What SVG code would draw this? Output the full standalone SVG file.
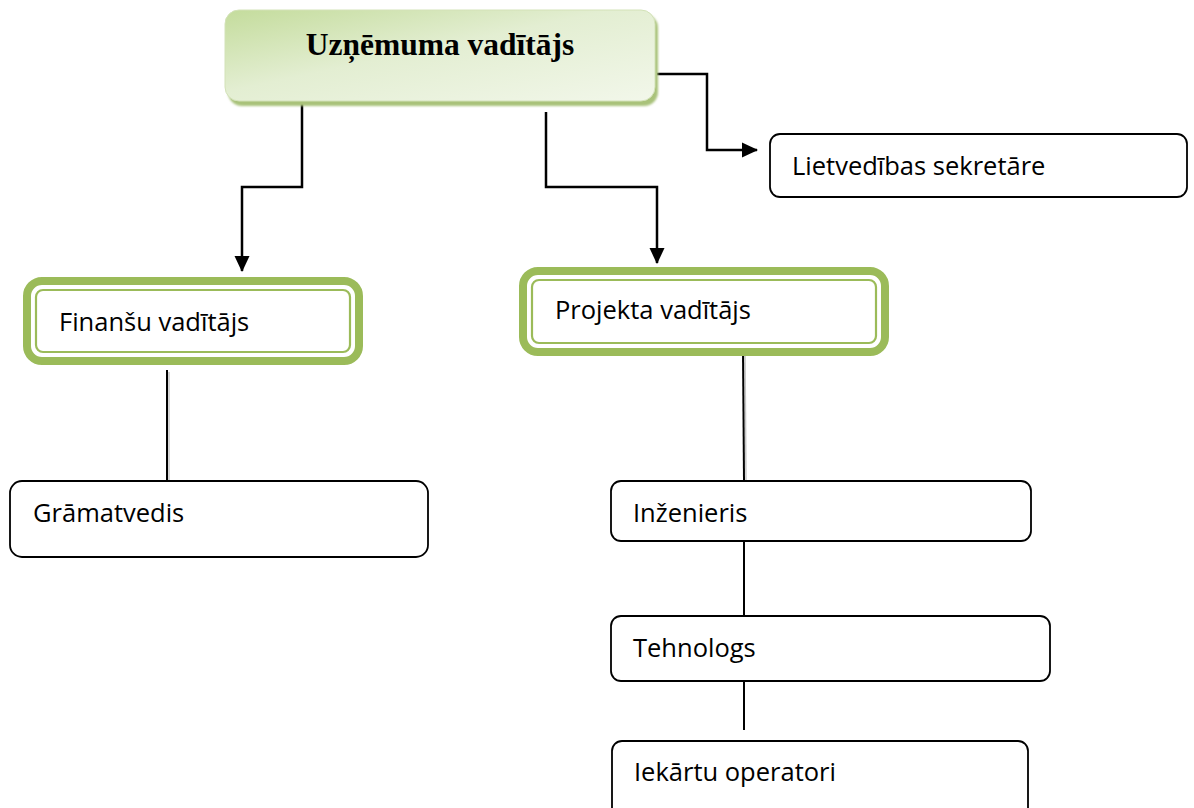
<svg xmlns="http://www.w3.org/2000/svg" width="1194" height="808" viewBox="0 0 1194 808">
<defs>
<linearGradient id="topg" x1="0" y1="0" x2="1" y2="1">
<stop offset="0" stop-color="#c4dc9c"/>
<stop offset="0.45" stop-color="#e3eed2"/>
<stop offset="1" stop-color="#f2f7ea"/>
</linearGradient>
<marker id="arr" markerWidth="16" markerHeight="16" refX="15" refY="8" orient="auto" markerUnits="userSpaceOnUse">
<path d="M0,0.5 L16,8 L0,15.5 Z" fill="#000"/>
</marker>
<filter id="sh" x="-5%" y="-5%" width="110%" height="120%">
<feGaussianBlur stdDeviation="1.2"/>
</filter>
</defs>
<style>
.box{fill:#fff;stroke:#000;stroke-width:1.8}
.gout{fill:#fff;stroke:#9bbb59;stroke-width:8}
.gin{fill:none;stroke:#9bbb59;stroke-width:2.2}
.lbl{font-family:"Open Sans","Liberation Sans",sans-serif;font-size:25.5px;fill:#000}
.title{font-family:"Liberation Serif","Times New Roman",serif;font-weight:bold;font-size:31.5px;fill:#000}
.con{fill:none;stroke:#000;stroke-width:2.5}
.ln{fill:none;stroke:#000;stroke-width:2}
.lns{fill:none;stroke:#c8c8c8;stroke-width:1.5}
</style>
<rect width="1194" height="808" fill="#fff"/>
<g id="connectors">
<path class="con" d="M302,101 V187 H242 V271" marker-end="url(#arr)"/>
<path class="con" d="M546,112 V187 H657 V263" marker-end="url(#arr)"/>
<path class="con" d="M657,74 H707 V150 H757" marker-end="url(#arr)"/>
<path class="lns" d="M169,372 V481"/>
<path class="ln" d="M167,370 V481"/>
<path class="lns" d="M745,352 L746,481"/>
<path class="ln" d="M743,350 L744,481"/>
<path class="ln" d="M744,541 V616"/>
<path class="ln" d="M744,681 V730"/>
</g>
<g id="n-top">
<rect x="228" y="14" width="430" height="92" rx="14" fill="#a9c27a" filter="url(#sh)"/>
<rect x="225" y="10" width="430" height="91" rx="14" fill="url(#topg)" stroke="#d3e2b8" stroke-width="1"/>
<text class="title" x="440" y="55" text-anchor="middle">Uzņēmuma vadītājs</text>
</g>
<g id="n-sekretare">
<rect class="box" x="770" y="134" width="417" height="63" rx="10"/>
<text class="lbl" x="792" y="175">Lietvedības sekretāre</text>
</g>
<g id="n-finansu">
<rect class="gout" x="27" y="281" width="332" height="80" rx="15"/>
<rect class="gin" x="36" y="290" width="314" height="62" rx="7"/>
<text class="lbl" x="59" y="331">Finanšu vadītājs</text>
</g>
<g id="n-projekta">
<rect class="gout" x="523" y="271" width="362" height="81" rx="15"/>
<rect class="gin" x="532" y="280" width="344" height="63" rx="7"/>
<text class="lbl" x="555" y="319">Projekta vadītājs</text>
</g>
<g id="n-gramatvedis">
<rect class="box" x="10" y="481" width="418" height="76" rx="12"/>
<text class="lbl" x="33" y="522">Grāmatvedis</text>
</g>
<g id="n-inzenieris">
<rect class="box" x="611" y="481" width="420" height="60" rx="10"/>
<text class="lbl" x="633" y="522">Inženieris</text>
</g>
<g id="n-tehnologs">
<rect class="box" x="611" y="616" width="439" height="65" rx="10"/>
<text class="lbl" x="633" y="657">Tehnologs</text>
</g>
<g id="n-operatori">
<rect class="box" x="612" y="741" width="416" height="80" rx="10"/>
<text class="lbl" x="634" y="781">Iekārtu operatori</text>
</g>
</svg>
